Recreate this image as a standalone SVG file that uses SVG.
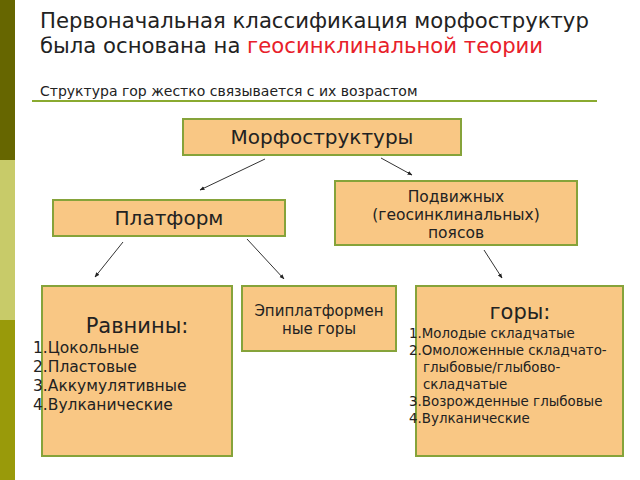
<svg xmlns="http://www.w3.org/2000/svg" width="640" height="480" viewBox="0 0 640 480">
<defs>
<marker id="ah" viewBox="0 0 10 10" refX="9" refY="5" markerWidth="5" markerHeight="5" orient="auto">
<path d="M0,1 L10,5 L0,9 z" fill="#222"/>
</marker>
<style>
text{font-family:"DejaVu Sans","Liberation Sans",sans-serif;fill:#222}
.box{fill:#f9c784;stroke:#86a33a;stroke-width:2}
.c{stroke:#333;stroke-width:1;fill:none;marker-end:url(#ah)}
.m{text-anchor:middle}
</style>
</defs>
<rect x="0" y="0" width="15" height="160" fill="#666600"/>
<rect x="0" y="160" width="15" height="160" fill="#c8cb69"/>
<rect x="0" y="320" width="15" height="160" fill="#999a0a"/>
<g id="title">
<text x="40" y="28" font-size="21.2">Первоначальная классификация морфоструктур</text>
<text x="40" y="53" font-size="21.2">была основана на <tspan fill="#e8202a" style="fill:#e8202a">геосинклинальной теории</tspan></text>
<text x="40" y="96" font-size="14">Структура гор жестко связывается с их возрастом</text>
<line x1="32" y1="101" x2="597" y2="101" stroke="#8aaa30" stroke-width="2"/>
</g>
<g id="connectors">
<line class="c" x1="265" y1="159" x2="200" y2="190"/>
<line class="c" x1="381" y1="158" x2="412" y2="175"/>
<line class="c" x1="123" y1="242" x2="95" y2="277"/>
<line class="c" x1="247" y1="239" x2="284" y2="279"/>
<line class="c" x1="484" y1="250" x2="502" y2="278"/>
</g>
<g id="n-morpho">
<rect class="box" x="183" y="119" width="278" height="36"/>
<text class="m" x="322" y="144" font-size="20">Морфоструктуры</text>
</g>
<g id="n-platform">
<rect class="box" x="53" y="200" width="232" height="36"/>
<text class="m" x="169" y="225" font-size="20">Платформ</text>
</g>
<g id="n-mobile">
<rect class="box" x="335" y="181" width="242" height="64"/>
<text class="m" x="456" y="202" font-size="15.5">Подвижных</text>
<text class="m" x="456" y="220" font-size="15.5">(геосинклинальных)</text>
<text class="m" x="456" y="238" font-size="15.5">поясов</text>
</g>
<g id="n-plains">
<rect class="box" x="42" y="286" width="190" height="170"/>
<text class="m" x="137" y="333" font-size="21">Равнины:</text>
<text x="33" y="353" font-size="15.5">1.Цокольные</text>
<text x="33" y="372" font-size="15.5">2.Пластовые</text>
<text x="33" y="391" font-size="15.5">3.Аккумулятивные</text>
<text x="33" y="410" font-size="15.5">4.Вулканические</text>
</g>
<g id="n-epi">
<rect class="box" x="242" y="286" width="154" height="65"/>
<text class="m" x="319" y="316" font-size="15">Эпиплатформен</text>
<text class="m" x="319" y="334" font-size="15">ные горы</text>
</g>
<g id="n-mountains">
<rect class="box" x="416" y="286" width="207" height="170"/>
<text class="m" x="520" y="319" font-size="21">горы:</text>
<text x="409" y="338" font-size="13.4">1.Молодые складчатые</text>
<text x="409" y="355" font-size="13.4">2.Омоложенные складчато-</text>
<text x="423" y="372" font-size="13.4">глыбовые/глыбово-</text>
<text x="423" y="389" font-size="13.4">складчатые</text>
<text x="409" y="406" font-size="13.4">3.Возрожденные глыбовые</text>
<text x="409" y="423" font-size="13.4">4.Вулканические</text>
</g>
</svg>
